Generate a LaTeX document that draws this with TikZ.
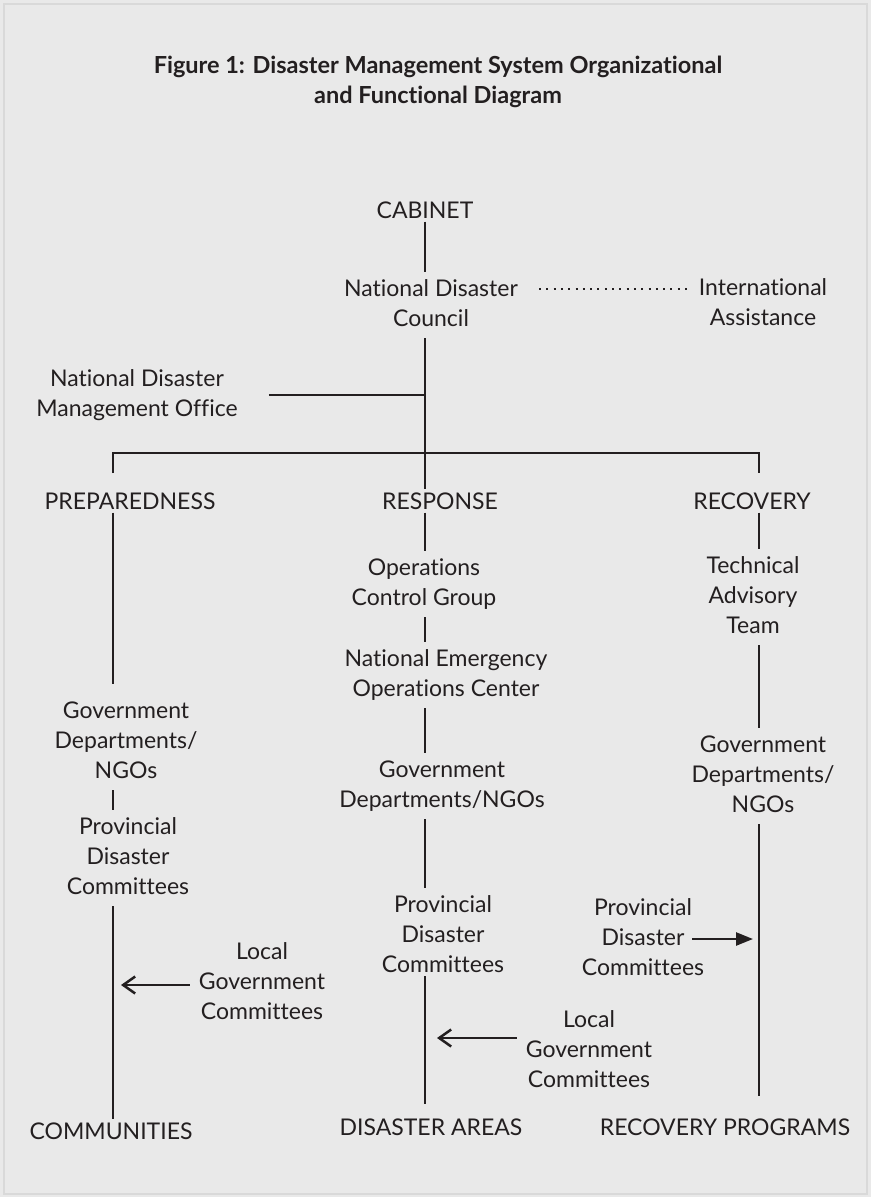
\documentclass[tikz,border=0pt]{standalone}
\usepackage{fontspec}
\setmainfont{Lato}[Ligatures=NoCommon]
\usetikzlibrary{arrows.meta}

\definecolor{ink}{HTML}{231F20}
\definecolor{paper}{HTML}{E9E9E9}
\definecolor{rim}{HTML}{D9D9D9}

\tikzset{
  unit/.style={inner sep=3pt, color=ink, font=\fontsize{23}{30}\selectfont},
  tie/.style={draw=ink, line width=2.5pt},
  open arrow/.style={tie, -{Straight Barb[length=12pt,width=17pt]}},
  solid arrow/.style={tie, -{Triangle[length=17pt,width=13pt]}},
}

\begin{document}
\begin{tikzpicture}[x=1pt, y=-1pt]
\useasboundingbox (0,0) rectangle (871,1197);
\fill[paper] (0,0) rectangle (871,1197);
\draw[rim, line width=2.5pt] (4,4) rectangle (867,1194);

\node[unit, font=\fontsize{23.5}{30}\selectfont\bfseries] (figure title) at (438, 82) {\begin{tabular}{c}
Figure 1: Disaster Management System Organizational \\
and Functional Diagram
\end{tabular}};

\coordinate (preparedness column) at (113, 0);
\coordinate (response column) at (425, 0);
\coordinate (recovery column) at (759, 0);
\coordinate (bar left) at (113, 473);
\coordinate (bar middle) at (425, 453);
\coordinate (bar right) at (759, 473);

% top of the chart
\node[unit] (cabinet) at (425, 210) {CABINET};
\node[unit] (national disaster council) at (431, 305) {\begin{tabular}{c}
National Disaster \\
Council
\end{tabular}};
\node[unit] (international assistance) at (763, 304) {\begin{tabular}{c}
International \\
Assistance
\end{tabular}};
\node[unit] (management office) at (137, 395) {\begin{tabular}{c}
National Disaster \\
Management Office
\end{tabular}};

\node[unit] (preparedness) at (130, 501) {PREPAREDNESS};
\node[unit] (response) at (440, 501) {RESPONSE};
\node[unit] (recovery) at (752, 501) {RECOVERY};

% preparedness
\node[unit] (preparedness departments) at (126, 742) {\begin{tabular}{c}
Government \\
Departments/ \\
NGOs
\end{tabular}};
\node[unit] (preparedness provincial) at (128, 858) {\begin{tabular}{c}
Provincial \\
Disaster \\
Committees
\end{tabular}};
\node[unit] (preparedness local) at (262, 983) {\begin{tabular}{c}
Local \\
Government \\
Committees
\end{tabular}};
\node[unit] (communities) at (111, 1131) {COMMUNITIES};

% response
\node[unit] (control group) at (424, 584) {\begin{tabular}{c}
Operations \\
Control Group
\end{tabular}};
\node[unit] (operations center) at (446, 675) {\begin{tabular}{c}
National Emergency \\
Operations Center
\end{tabular}};
\node[unit] (response departments) at (442, 786) {\begin{tabular}{c}
Government \\
Departments/NGOs
\end{tabular}};
\node[unit] (response provincial) at (443, 936) {\begin{tabular}{c}
Provincial \\
Disaster \\
Committees
\end{tabular}};
\node[unit] (response local) at (589, 1051) {\begin{tabular}{c}
Local \\
Government \\
Committees
\end{tabular}};
\node[unit] (disaster areas) at (431, 1127) {DISASTER AREAS};

% recovery
\node[unit] (advisory team) at (753, 597) {\begin{tabular}{c}
Technical \\
Advisory \\
Team
\end{tabular}};
\node[unit] (recovery departments) at (763, 776) {\begin{tabular}{c}
Government \\
Departments/ \\
NGOs
\end{tabular}};
\node[unit] (recovery provincial) at (643, 939) {\begin{tabular}{c}
Provincial \\
Disaster \\
Committees
\end{tabular}};
\node[unit] (recovery programs) at (725, 1127) {RECOVERY PROGRAMS};

% connectors
\draw[tie] (cabinet.south -| response column) -- (national disaster council.north -| response column);
\draw[tie] (national disaster council.south -| response column) -- (response.north -| response column);
\draw[tie, shorten <=22pt] (management office.east) -- (management office.east -| response column);
\draw[draw=ink, line width=2pt, dash pattern=on 2pt off 5.3pt, shorten <=12pt] ([yshift=16pt]national disaster council.east) -- ([yshift=16pt]national disaster council.east -| international assistance.west);
\draw[tie] (bar left) |- (bar middle) -| (bar right);

\draw[tie, shorten >=10pt] (preparedness.south -| preparedness column) -- (preparedness departments.north -| preparedness column);
\draw[tie] (preparedness departments.south -| preparedness column) -- (preparedness provincial.north -| preparedness column);
\draw[tie] (preparedness provincial.south -| preparedness column) -- (communities.north -| preparedness column);
\draw[open arrow, shorten >=8pt] ([yshift=-2pt]preparedness local.west) -- ([yshift=-2pt]preparedness local.west -| preparedness column);

\draw[tie] (response.south -| response column) -- (control group.north -| response column);
\draw[tie] (control group.south -| response column) -- (operations center.north -| response column);
\draw[tie] (operations center.south -| response column) -- (response departments.north -| response column);
\draw[tie] (response departments.south -| response column) -- (response provincial.north -| response column);
\draw[tie, shorten <=-8pt, shorten >=11pt] (response provincial.south -| response column) -- (disaster areas.north -| response column);
\draw[open arrow, shorten >=12pt] ([yshift=13pt]response local.west) -- ([yshift=13pt]response local.west -| response column);

\draw[tie] (recovery.south -| recovery column) -- (advisory team.north -| recovery column);
\draw[tie] (advisory team.south -| recovery column) -- (recovery departments.north -| recovery column);
\draw[tie, shorten >=19pt] (recovery departments.south -| recovery column) -- (recovery programs.north -| recovery column);
\draw[solid arrow, shorten >=6pt] ([xshift=49pt]recovery provincial.center) -- (recovery provincial.center -| recovery column);
\end{tikzpicture}
\end{document}
